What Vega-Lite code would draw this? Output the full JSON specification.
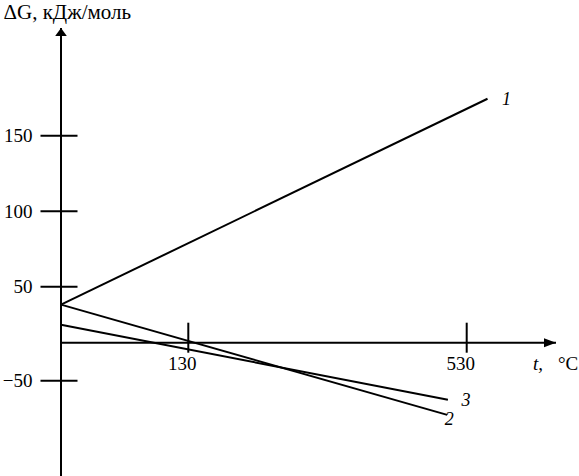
{
  "$schema": "https://vega.github.io/schema/vega-lite/v6.json",
  "width": 495,
  "height": 448,
  "autosize": "none",
  "padding": {"left": 61, "top": 28, "right": 23, "bottom": 0},
  "background": "white",
  "config": {
    "view": {"stroke": null},
    "font": "Liberation Serif",
    "axisY": {"domain": false, "ticks": false, "grid": false, "labelPadding": 29, "labelFont": "Liberation Serif", "labelFontSize": 19, "labelColor": "black", "labelFlush": false, "labelOverlap": false,
      "titleAngle": 0, "titleX": -58, "titleY": -10, "titleAlign": "left", "titleBaseline": "alphabetic", "titleFont": "Liberation Serif", "titleFontSize": 21, "titleFontWeight": "normal", "titleColor": "black"}
  },
  "datasets": {
    "lines": [
      {"s": "1", "t": 0, "g": 34},
      {"s": "1", "t": 558, "g": 174},
      {"s": "2", "t": 0, "g": 34},
      {"s": "2", "t": 502, "g": -95},
      {"s": "3", "t": 0, "g": 16},
      {"s": "3", "t": 503, "g": -75}
    ],
    "yticks": [{"g": 150}, {"g": 100}, {"g": 50}, {"g": -50}],
    "xticks": [{"t": 130}, {"t": 530}],
    "one": [{}]
  },
  "layer": [
    {
      "data": {"name": "one"},
      "mark": {"type": "rule", "color": "black", "strokeWidth": 2},
      "encoding": {
        "x": {"datum": 0, "type": "quantitative", "scale": {"domain": [0, 130, 530, 650], "range": [0, 127.3, 405.7, 495], "nice": false, "zero": false}, "axis": null}
      }
    },
    {
      "data": {"name": "one"},
      "mark": {"type": "rule", "color": "black", "strokeWidth": 2},
      "encoding": {
        "y": {"datum": 0, "type": "quantitative", "title": "ΔG, кДж/моль", "scale": {"domain": [-50, 0, 50, 150, 220], "range": [352.7, 314.7, 258.7, 107.7, 0], "nice": false, "zero": false}, "axis": {"values": [150, 100, 50, -50]}}
      }
    },
    {
      "data": {"name": "one"},
      "mark": {"type": "point", "shape": "M0,0L-1.45,2L1.45,2Z", "size": 64, "filled": true, "color": "black", "opacity": 1, "strokeWidth": 0},
      "encoding": {
        "x": {"datum": 0, "type": "quantitative", "scale": {"domain": [0, 130, 530, 650], "range": [0, 127.3, 405.7, 495], "nice": false, "zero": false}, "axis": null},
        "y": {"datum": 220, "type": "quantitative", "title": "ΔG, кДж/моль", "scale": {"domain": [-50, 0, 50, 150, 220], "range": [352.7, 314.7, 258.7, 107.7, 0], "nice": false, "zero": false}, "axis": {"values": [150, 100, 50, -50]}}
      }
    },
    {
      "data": {"name": "one"},
      "mark": {"type": "point", "shape": "M0,0L-2,-0.75L-2,0.75Z", "size": 144, "filled": true, "color": "black", "opacity": 1, "strokeWidth": 0},
      "encoding": {
        "x": {"datum": 650, "type": "quantitative", "scale": {"domain": [0, 130, 530, 650], "range": [0, 127.3, 405.7, 495], "nice": false, "zero": false}, "axis": null},
        "y": {"datum": 0, "type": "quantitative", "title": "ΔG, кДж/моль", "scale": {"domain": [-50, 0, 50, 150, 220], "range": [352.7, 314.7, 258.7, 107.7, 0], "nice": false, "zero": false}, "axis": {"values": [150, 100, 50, -50]}}
      }
    },
    {
      "data": {"name": "yticks"},
      "mark": {"type": "tick", "orient": "horizontal", "size": 37, "thickness": 2, "color": "black", "opacity": 1, "xOffset": -2},
      "encoding": {
        "x": {"datum": 0, "type": "quantitative", "scale": {"domain": [0, 130, 530, 650], "range": [0, 127.3, 405.7, 495], "nice": false, "zero": false}, "axis": null},
        "y": {"field": "g", "type": "quantitative", "title": "ΔG, кДж/моль", "scale": {"domain": [-50, 0, 50, 150, 220], "range": [352.7, 314.7, 258.7, 107.7, 0], "nice": false, "zero": false}, "axis": {"values": [150, 100, 50, -50]}}
      }
    },
    {
      "data": {"name": "xticks"},
      "mark": {"type": "tick", "orient": "vertical", "size": 30, "thickness": 2, "color": "black", "opacity": 1, "yOffset": -5},
      "encoding": {
        "x": {"field": "t", "type": "quantitative", "scale": {"domain": [0, 130, 530, 650], "range": [0, 127.3, 405.7, 495], "nice": false, "zero": false}, "axis": null},
        "y": {"datum": 0, "type": "quantitative", "title": "ΔG, кДж/моль", "scale": {"domain": [-50, 0, 50, 150, 220], "range": [352.7, 314.7, 258.7, 107.7, 0], "nice": false, "zero": false}, "axis": {"values": [150, 100, 50, -50]}}
      }
    },
    {
      "data": {"name": "xticks"},
      "mark": {"type": "text", "font": "Liberation Serif", "fontSize": 19, "color": "black", "align": "center", "baseline": "middle", "dx": -6, "dy": 21},
      "encoding": {
        "x": {"field": "t", "type": "quantitative", "scale": {"domain": [0, 130, 530, 650], "range": [0, 127.3, 405.7, 495], "nice": false, "zero": false}, "axis": null},
        "y": {"datum": 0, "type": "quantitative", "title": "ΔG, кДж/моль", "scale": {"domain": [-50, 0, 50, 150, 220], "range": [352.7, 314.7, 258.7, 107.7, 0], "nice": false, "zero": false}, "axis": {"values": [150, 100, 50, -50]}},
        "text": {"field": "t", "type": "quantitative"}
      }
    },
    {
      "data": {"name": "one"},
      "mark": {"type": "text", "text": "t,", "font": "Liberation Serif", "fontStyle": "italic", "fontSize": 19, "color": "black", "align": "left", "baseline": "middle", "dx": -23, "dy": 21},
      "encoding": {
        "x": {"datum": 650, "type": "quantitative", "scale": {"domain": [0, 130, 530, 650], "range": [0, 127.3, 405.7, 495], "nice": false, "zero": false}, "axis": null},
        "y": {"datum": 0, "type": "quantitative", "title": "ΔG, кДж/моль", "scale": {"domain": [-50, 0, 50, 150, 220], "range": [352.7, 314.7, 258.7, 107.7, 0], "nice": false, "zero": false}, "axis": {"values": [150, 100, 50, -50]}}
      }
    },
    {
      "data": {"name": "one"},
      "mark": {"type": "text", "text": "°C", "font": "Liberation Serif", "fontSize": 19, "color": "black", "align": "left", "baseline": "middle", "dx": 2, "dy": 21},
      "encoding": {
        "x": {"datum": 650, "type": "quantitative", "scale": {"domain": [0, 130, 530, 650], "range": [0, 127.3, 405.7, 495], "nice": false, "zero": false}, "axis": null},
        "y": {"datum": 0, "type": "quantitative", "title": "ΔG, кДж/моль", "scale": {"domain": [-50, 0, 50, 150, 220], "range": [352.7, 314.7, 258.7, 107.7, 0], "nice": false, "zero": false}, "axis": {"values": [150, 100, 50, -50]}}
      }
    },
    {
      "data": {"name": "lines"},
      "mark": {"type": "line", "color": "black", "strokeWidth": 2},
      "encoding": {
        "x": {"field": "t", "type": "quantitative", "scale": {"domain": [0, 130, 530, 650], "range": [0, 127.3, 405.7, 495], "nice": false, "zero": false}, "axis": null},
        "y": {"field": "g", "type": "quantitative", "title": "ΔG, кДж/моль", "scale": {"domain": [-50, 0, 50, 150, 220], "range": [352.7, 314.7, 258.7, 107.7, 0], "nice": false, "zero": false}, "axis": {"values": [150, 100, 50, -50]}},
        "detail": {"field": "s", "type": "nominal"}
      }
    },
    {
      "data": {"name": "lines"},
      "transform": [{"filter": "datum.s == '1' && datum.t > 0"}],
      "mark": {"type": "text", "font": "Liberation Serif", "fontStyle": "italic", "fontSize": 18, "color": "black", "align": "center", "baseline": "middle", "dx": 19, "dy": 1},
      "encoding": {
        "x": {"field": "t", "type": "quantitative", "scale": {"domain": [0, 130, 530, 650], "range": [0, 127.3, 405.7, 495], "nice": false, "zero": false}, "axis": null},
        "y": {"field": "g", "type": "quantitative", "title": "ΔG, кДж/моль", "scale": {"domain": [-50, 0, 50, 150, 220], "range": [352.7, 314.7, 258.7, 107.7, 0], "nice": false, "zero": false}, "axis": {"values": [150, 100, 50, -50]}},
        "text": {"field": "s", "type": "nominal"}
      }
    },
    {
      "data": {"name": "lines"},
      "transform": [{"filter": "datum.s == '2' && datum.t > 0"}],
      "mark": {"type": "text", "font": "Liberation Serif", "fontStyle": "italic", "fontSize": 18, "color": "black", "align": "center", "baseline": "middle", "dx": 2, "dy": 5},
      "encoding": {
        "x": {"field": "t", "type": "quantitative", "scale": {"domain": [0, 130, 530, 650], "range": [0, 127.3, 405.7, 495], "nice": false, "zero": false}, "axis": null},
        "y": {"field": "g", "type": "quantitative", "title": "ΔG, кДж/моль", "scale": {"domain": [-50, 0, 50, 150, 220], "range": [352.7, 314.7, 258.7, 107.7, 0], "nice": false, "zero": false}, "axis": {"values": [150, 100, 50, -50]}},
        "text": {"field": "s", "type": "nominal"}
      }
    },
    {
      "data": {"name": "lines"},
      "transform": [{"filter": "datum.s == '3' && datum.t > 0"}],
      "mark": {"type": "text", "font": "Liberation Serif", "fontStyle": "italic", "fontSize": 18, "color": "black", "align": "center", "baseline": "middle", "dx": 18, "dy": 1},
      "encoding": {
        "x": {"field": "t", "type": "quantitative", "scale": {"domain": [0, 130, 530, 650], "range": [0, 127.3, 405.7, 495], "nice": false, "zero": false}, "axis": null},
        "y": {"field": "g", "type": "quantitative", "title": "ΔG, кДж/моль", "scale": {"domain": [-50, 0, 50, 150, 220], "range": [352.7, 314.7, 258.7, 107.7, 0], "nice": false, "zero": false}, "axis": {"values": [150, 100, 50, -50]}},
        "text": {"field": "s", "type": "nominal"}
      }
    }
  ]
}
